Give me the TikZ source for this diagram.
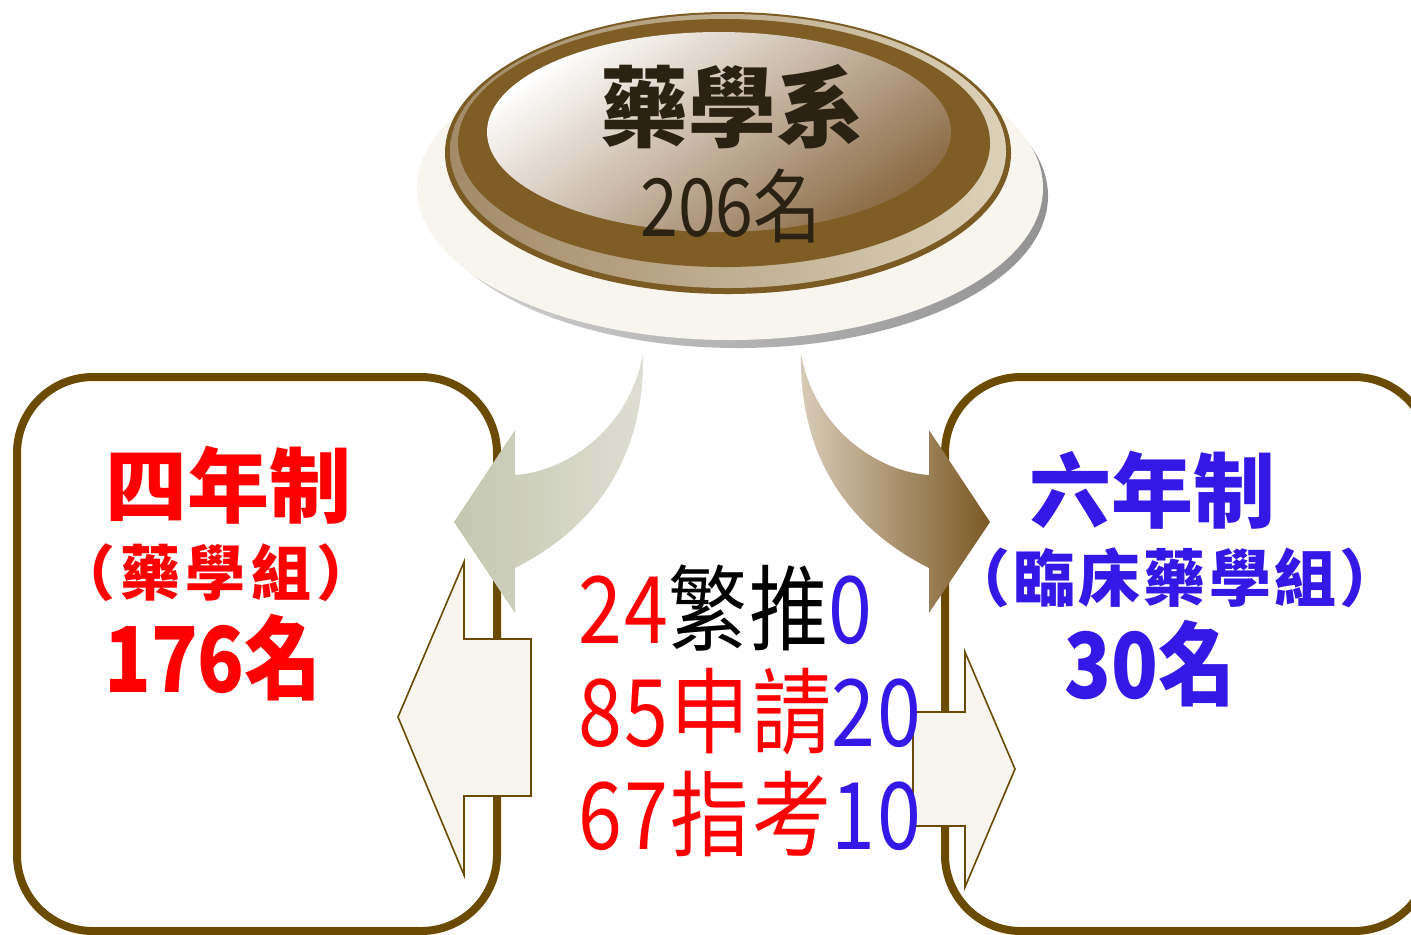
\documentclass[tikz,border=0pt]{standalone}
\usepackage{fontspec}
\usepackage{graphicx}
\usepackage{xcolor}
\newfontfamily\cjk{Noto Sans CJK TC}
\usetikzlibrary{positioning}
\definecolor{deptred}{HTML}{FF0000}
\definecolor{deptblue}{HTML}{3419E6}
\definecolor{ringbrown}{HTML}{7B5A23}
\definecolor{innerbrown}{HTML}{7F5D25}
\definecolor{bevellow}{HTML}{A38B69}
\definecolor{bevelhigh}{HTML}{DCD1B8}
\definecolor{domebrown}{HTML}{8C6B45}
\definecolor{framebrown}{HTML}{6B4A02}
\definecolor{creamfill}{HTML}{F8F5EE}
\definecolor{sagedark}{HTML}{C4C7B0}
\definecolor{sagelight}{HTML}{DEDED2}
\definecolor{tanlight}{HTML}{D9CCB8}
\definecolor{tandark}{HTML}{7C5926}
\definecolor{inkbrown}{HTML}{2A2314}
\newcommand{\tallnum}[1]{\scalebox{1}[1.18]{#1}}

\begin{document}
\begin{tikzpicture}[
  x=0.5pt, y=-0.5pt,
  every node/.style={inner sep=0pt, font=\cjk},
  groupbox/.style={rectangle, draw=framebrown, line width=4pt, rounded corners=38pt, fill=white, minimum height=277pt},
  blockarrow/.style={draw=framebrown, line width=0.8pt, fill=creamfill, line join=miter},
  titletext/.style={font=\cjk\bfseries\fontsize{#1}{#1}\selectfont},
  quotaline/.style={anchor=west, font=\cjk\fontsize{39.5pt}{40pt}\selectfont\addfontfeatures{LetterSpace=3}},
]
\useasboundingbox (0,0) rectangle (1411,934);
\clip (0,0) rectangle (1411,934);

% program boxes
\node[groupbox, minimum width=240pt] (fourbox) at (257,654) {};
\node[groupbox, minimum width=242.5pt] (sixbox) at (1187.5,654) {};

% department button
\shade[left color=gray!35, right color=gray!85] (738,196) ellipse [x radius=310, y radius=152];
\fill[creamfill] (730,188) ellipse [x radius=313, y radius=152];
\fill[ringbrown] (728,153) ellipse [x radius=283, y radius=141];
\shade[left color=bevellow, right color=bevelhigh] (728,151) ellipse [x radius=278, y radius=137];
\fill[innerbrown] (724,143) ellipse [x radius=266, y radius=124];
\shade[top color=white, bottom color=domebrown, shading angle=35] (719,132) ellipse [x radius=232, y radius=100];
\node[titletext=44pt, text=inkbrown] (dept) at (732,107) {藥學系};
\node[font=\cjk\fontsize{34pt}{34pt}\selectfont, text=inkbrown] (depttotal) at (731,206) {\tallnum{206名}};

% split arrows
\shade[left color=sagedark, right color=sagelight] (643,353) .. controls (645,440) and (610,520) .. (515,568)
  -- (515,613) -- (454,522) -- (515,430) -- (515,475) .. controls (565,472) and (630,430) .. (643,353) -- cycle;
\shade[left color=tanlight, right color=tandark] (801,353) .. controls (799,440) and (834,520) .. (929,568)
  -- (929,613) -- (990,522) -- (929,430) -- (929,475) .. controls (879,472) and (814,430) .. (801,353) -- cycle;

% exchange arrows
\draw[blockarrow] (531,639) -- (464,639) -- (464,562) -- (398,717) -- (464,875) -- (464,796) -- (531,796) -- cycle;
\draw[blockarrow] (913,712) -- (965,712) -- (965,652) -- (1015,769) -- (965,887) -- (965,826) -- (913,826) -- cycle;

% program labels
\node[titletext=41pt, text=deptred] (fourname) at (228,485) {四年制};
\node[titletext=30pt, text=deptred] (fourgroup) at (216,573) {\addfontfeatures{LetterSpace=9}（藥學組）};
\node[titletext=38.5pt, text=deptred] (fourtotal) at (213,658) {\tallnum{176名}};
\node[titletext=41pt, text=deptblue] (sixname) at (1152,490) {六年制};
\node[titletext=31pt, text=deptblue] (sixgroup) at (1175,578) {\addfontfeatures{LetterSpace=5}（臨床藥學組）};
\node[titletext=38.5pt, text=deptblue] (sixtotal) at (1150,664) {\tallnum{30名}};

% admission quotas
\node[quotaline] (quotastar) at (578,608) {\tallnum{\textcolor{deptred}{24}繁推\textcolor{deptblue}{0}}};
\node[quotaline] (quotaapply) at (578,712) {\tallnum{\textcolor{deptred}{85申請}\textcolor{deptblue}{20}}};
\node[quotaline] (quotaexam) at (578,814) {\tallnum{\textcolor{deptred}{67指考}\textcolor{deptblue}{10}}};
\end{tikzpicture}
\end{document}
